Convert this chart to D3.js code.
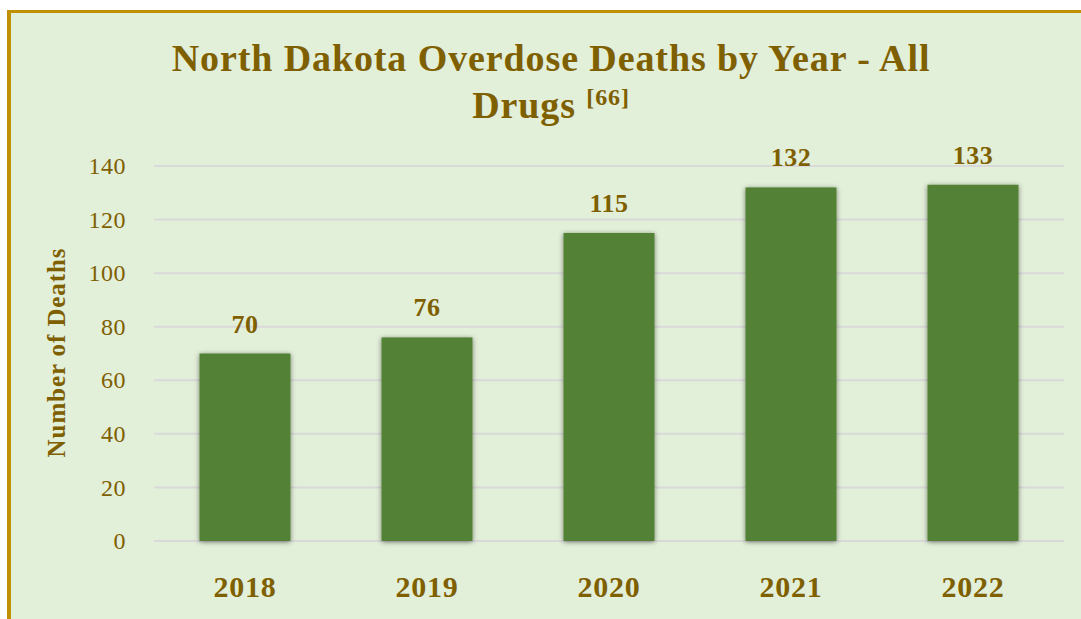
<!DOCTYPE html>
<html>
<head>
<meta charset="utf-8">
<script src="https://cdn.jsdelivr.net/npm/d3@7/dist/d3.min.js"></script>
<style>
  html, body { margin: 0; padding: 0; background: #ffffff; }
  svg { display: block; }
  text { font-family: "Liberation Serif", "DejaVu Serif", serif; fill: #7F6000; }
</style>
</head>
<body>
<svg id="chart" width="1081" height="619"></svg>
<script>
// Overdose deaths, all drugs, by year
const years = ["2018", "2019", "2020", "2021", "2022"];
const deaths = [70, 76, 115, 132, 133];
const yTicks = [0, 20, 40, 60, 80, 100, 120, 140];

const svg = d3.select("#chart");
const W = 1081, H = 619;

// Panel background and border
svg.append("rect").attr("x", 7).attr("y", 10).attr("width", W - 7).attr("height", H - 10)
  .attr("fill", "#E2EFD9");
svg.append("rect").attr("x", 7).attr("y", 10).attr("width", W - 7).attr("height", 3).attr("fill", "#BF9000");
svg.append("rect").attr("x", 7).attr("y", 10).attr("width", 4).attr("height", H - 10).attr("fill", "#BF9000");

const defs = svg.append("defs");
const f = defs.append("filter").attr("id", "shadow").attr("x", "-20%").attr("y", "-10%").attr("width", "140%").attr("height", "120%");
f.append("feDropShadow").attr("dx", 0).attr("dy", 1).attr("stdDeviation", 2.5)
  .attr("flood-color", "#000").attr("flood-opacity", 0.5);

const plot = { left: 154, right: 1064, top: 166, bottom: 541 };

const x = d3.scaleBand().domain(years).range([plot.left, plot.right]).paddingInner(0.5).paddingOuter(0.25);
const y = d3.scaleLinear().domain([0, 140]).range([plot.bottom, plot.top]);

// Gridlines
svg.append("g").selectAll("line").data(yTicks).join("line")
  .attr("x1", plot.left).attr("x2", plot.right)
  .attr("y1", d => y(d)).attr("y2", d => y(d))
  .attr("stroke", "#D9D9D9").attr("stroke-width", 2);

// Y axis labels
const yAxis = d3.axisLeft(y).tickValues(yTicks).tickSize(0).tickPadding(0);
const gy = svg.append("g").attr("transform", `translate(${plot.left - 28},0)`).call(yAxis);
gy.select(".domain").remove();
gy.selectAll("text").style("font-size", "24px").attr("fill", "#7F6000")
  .style("font-family", '"Liberation Serif", serif').style("letter-spacing", "0.5px");

// Bars
svg.append("g").selectAll("rect").data(deaths).join("rect")
  .attr("x", (d, i) => x(years[i]))
  .attr("y", d => y(d))
  .attr("width", x.bandwidth())
  .attr("height", d => y(0) - y(d))
  .attr("fill", "#538135")
  .attr("filter", "url(#shadow)");

// Value labels
svg.append("g").selectAll("text").data(deaths).join("text")
  .attr("x", (d, i) => x(years[i]) + x.bandwidth() / 2)
  .attr("y", d => y(d) - 21)
  .attr("text-anchor", "middle")
  .style("font-size", "26px").style("font-weight", "bold").style("letter-spacing", "0.5px")
  .text(d => d);

// X axis labels
const xAxis = d3.axisBottom(x).tickSize(0).tickPadding(0);
const gx = svg.append("g").attr("transform", `translate(0,${plot.bottom + 35})`).call(xAxis);
gx.select(".domain").remove();
gx.selectAll("text").style("font-size", "30px").style("font-weight", "bold").attr("fill", "#7F6000")
  .style("font-family", '"Liberation Serif", serif').style("letter-spacing", "0.8px");

// Axis title
svg.append("text")
  .attr("transform", `translate(65,${(plot.top + plot.bottom) / 2 - 1}) rotate(-90)`)
  .attr("text-anchor", "middle")
  .style("font-size", "25px").style("font-weight", "bold").style("letter-spacing", "0.9px")
  .text("Number of Deaths");

// Title
const title = svg.append("text").attr("x", 551).attr("y", 71).attr("text-anchor", "middle")
  .style("font-size", "38px").style("font-weight", "bold").style("letter-spacing", "0.9px")
  .text("North Dakota Overdose Deaths by Year - All");
const t2 = svg.append("text").attr("x", 551).attr("y", 118).attr("text-anchor", "middle")
  .style("font-size", "38px").style("font-weight", "bold").style("letter-spacing", "0.9px");
t2.append("tspan").text("Drugs ");
t2.append("tspan").style("font-size", "24px").attr("dy", -13).text("[66]");
</script>
</body>
</html>
